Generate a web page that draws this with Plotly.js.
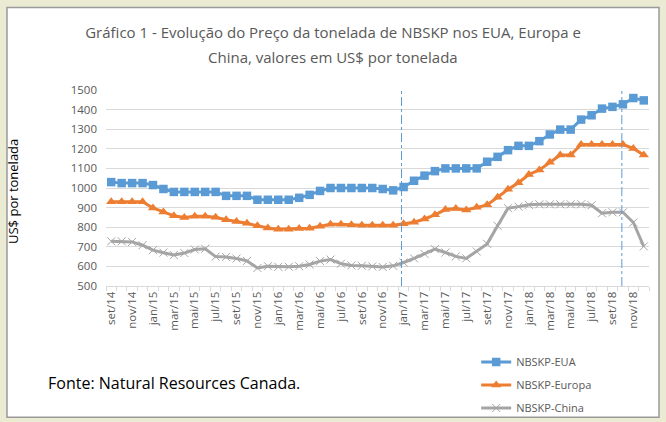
<!DOCTYPE html>
<html>
<head>
<meta charset="utf-8">
<script src="https://cdn.plot.ly/plotly-3.0.1.min.js"></script>
<style>html,body{margin:0;padding:0;background:#ebebd3;}#chart{width:666px;height:422px;}</style>
</head>
<body>
<div id="chart"></div>
<script>
const months = ["set/14","out/14","nov/14","dez/14","jan/15","fev/15","mar/15","abr/15","mai/15","jun/15","jul/15","ago/15",
"set/15","out/15","nov/15","dez/15","jan/16","fev/16","mar/16","abr/16","mai/16","jun/16","jul/16","ago/16",
"set/16","out/16","nov/16","dez/16","jan/17","fev/17","mar/17","abr/17","mai/17","jun/17","jul/17","ago/17",
"set/17","out/17","nov/17","dez/17","jan/18","fev/18","mar/18","abr/18","mai/18","jun/18","jul/18","ago/18",
"set/18","out/18","nov/18","dez/18"];

const eua = [1030,1025,1025,1025,1015,995,980,980,980,980,980,960,
960,960,940,940,940,940,950,965,985,1000,1000,1000,
1000,1000,995,988,1005,1037,1063,1086,1100,1100,1100,1100,
1134,1159,1193,1215,1215,1239,1273,1298,1298,1349,1371,1405,
1414,1427,1459,1447];

const europa = [930,930,930,930,898,878,858,850,856,856,851,838,
829,820,807,796,790,790,793,795,805,815,815,812,
810,810,810,810,818,825,842,863,890,895,888,902,
914,953,993,1027,1069,1092,1131,1168,1168,1222,1222,1222,
1222,1222,1202,1168];

const china = [728,728,725,708,683,670,658,668,686,690,650,648,
640,628,592,601,598,598,601,610,627,635,614,605,
603,600,597,603,620,641,664,688,671,651,641,676,
715,807,897,905,914,917,917,917,917,917,912,871,
876,876,824,702];

const yTicks = [500,600,700,800,900,1000,1100,1200,1300,1400,1500];
const eventMarks = [27.8, 48.9];

const titleLine1 = "Gráfico 1 - Evolução do Preço da tonelada de NBSKP nos EUA, Europa e";
const titleLine2 = "China, valores em US$ por tonelada";

const xIdx = months.map((m,i)=>i);
const tickIdx = xIdx.filter(i=>i%2===0);
const tickTxt = tickIdx.map(i=>months[i]);

const FONT = "Open Sans, Lato, sans-serif";
const grey = "#595959";

const traces = [
 {x:xIdx, y:eua, name:"NBSKP-EUA", type:"scatter", mode:"lines+markers",
  line:{color:"#5B9BD5", width:3}, marker:{symbol:"square", size:8.5, color:"#5B9BD5"}, legend:"legend"},
 {x:xIdx, y:europa, name:"NBSKP-Europa", type:"scatter", mode:"lines+markers",
  line:{color:"#ED7D31", width:3}, marker:{symbol:"triangle-up", size:9, color:"#ED7D31"}, legend:"legend2"},
 {x:xIdx, y:china, name:"NBSKP-China", type:"scatter", mode:"lines+markers",
  line:{color:"#A5A5A5", width:3}, marker:{symbol:"x-thin-open", size:8, color:"#A5A5A5", line:{color:"#A5A5A5", width:1}}, legend:"legend3"}
];

const legBase = {xref:"container", yref:"container", xanchor:"left", yanchor:"middle", bgcolor:"rgba(0,0,0,0)",
  font:{family:FONT, size:11, color:grey}, itemwidth:30};

// paper coords: x 0->106px, 1->649px ; y 0->286.3px, 1->89.7px
const px2x = p => (p-106)/543;
const py2y = p => (286.3-p)/196.6;

const shapes = [
 {type:"rect", xref:"paper", yref:"paper", x0:px2x(7), x1:px2x(659), y0:py2y(418), y1:py2y(7),
  fillcolor:"#ffffff", line:{color:"#9a9a9a", width:1.5}, layer:"below"}
].concat(eventMarks.map(v=>({type:"line", xref:"x", yref:"paper", x0:v, x1:v, y0:0, y1:1.01,
  line:{color:"#5B9BD5", width:1, dash:"dashdot"}})));

const layout = {
 width:666, height:422, autosize:false,
 paper_bgcolor:"#ebebd3", plot_bgcolor:"rgba(0,0,0,0)",
 margin:{l:106, r:17, t:90, b:136, autoexpand:false},
 title:{text:titleLine1,
   font:{family:FONT, size:15, color:grey}, x:0.5, xref:"container", y:1-33/422, yref:"container", yanchor:"middle"},
 xaxis:{type:"linear", range:[-0.5, months.length-0.5], tickmode:"array", tickvals:tickIdx, ticktext:tickTxt,
   tickangle:-90, tickfont:{family:FONT, size:11.5, color:grey}, showgrid:false, zeroline:false,
   showline:true, linecolor:"#d9d9d9", linewidth:1, ticks:"",
   minor:{tickmode:"linear", tick0:-0.5, dtick:1, ticks:"outside", ticklen:4, tickcolor:"#d9d9d9", showgrid:false}},
 yaxis:{range:[500,1500], tickmode:"array", tickvals:yTicks, showgrid:true, gridcolor:"#d9d9d9", gridwidth:1,
   zeroline:false, showline:false, tickfont:{family:FONT, size:11.5, color:grey}, ticks:"", ticklabelstandoff:8},
 showlegend:true,
 legend:Object.assign({}, legBase, {x:0.715, y:1-362/422}),
 legend2:Object.assign({}, legBase, {x:0.715, y:1-385/422}),
 legend3:Object.assign({}, legBase, {x:0.715, y:1-408/422}),
 shapes:shapes,
 annotations:[
  {text:titleLine2, xref:"paper", yref:"paper", x:px2x(333), y:py2y(57),
   showarrow:false, font:{family:FONT, size:15, color:grey}, xanchor:"center", yanchor:"middle"},
  {text:"US$ por tonelada", xref:"paper", yref:"paper", x:px2x(13), y:py2y(192), textangle:-90,
   showarrow:false, font:{family:FONT, size:13, color:"#000"}, xanchor:"center", yanchor:"middle"},
  {text:"Fonte: Natural Resources Canada.", xref:"paper", yref:"paper", x:px2x(46), y:py2y(384),
   showarrow:false, font:{family:FONT, size:16, color:"#000"}, xanchor:"left", yanchor:"middle"}
 ]
};

Plotly.newPlot("chart", traces, layout, {displayModeBar:false, staticPlot:true});
</script>
</body>
</html>
